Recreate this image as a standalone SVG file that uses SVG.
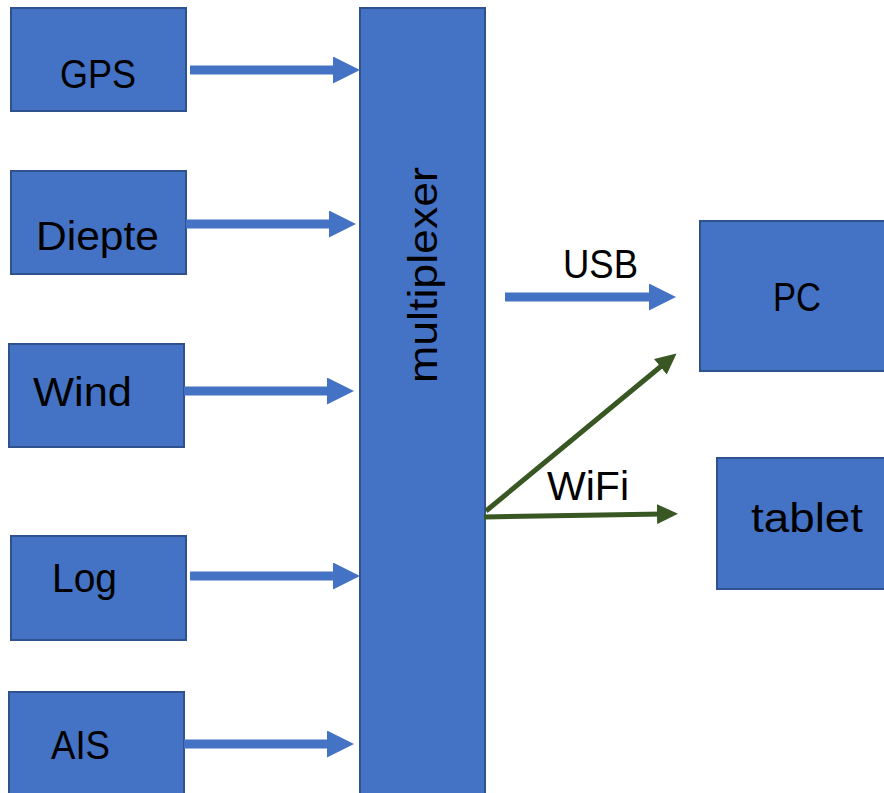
<svg xmlns="http://www.w3.org/2000/svg" width="884" height="793" viewBox="0 0 884 793">
<style>
.box{fill:#4472C4;stroke:#2F528F;stroke-width:2}
.lbl{font-family:"Liberation Sans",Arial,sans-serif;font-size:41px;fill:#000}
.blue{stroke:#4472C4;stroke-width:9;fill:none}
.green{stroke:#385723;stroke-width:5;fill:none}
</style>
<defs>
<marker id="ah" markerUnits="userSpaceOnUse" markerWidth="27" markerHeight="27" viewBox="0 0 27 27" refX="7" refY="13.5" orient="auto">
<path d="M0,0 L27,13.5 L0,27 Z" fill="#4472C4"/>
</marker>
<marker id="ag" markerUnits="userSpaceOnUse" markerWidth="21" markerHeight="20" viewBox="0 0 21 20" refX="6" refY="10" orient="auto">
<path d="M0,0 L21,10 L0,20 Z" fill="#385723"/>
</marker>
</defs>
<g id="gps"><rect class="box" x="11" y="8" width="175" height="103"/><text class="lbl" x="60" y="88" textLength="76" lengthAdjust="spacingAndGlyphs">GPS</text></g>
<g id="diepte"><rect class="box" x="11" y="171" width="175" height="103"/><text class="lbl" x="36" y="250" textLength="123" lengthAdjust="spacingAndGlyphs">Diepte</text></g>
<g id="wind"><rect class="box" x="9" y="344" width="175" height="103"/><text class="lbl" x="33" y="406" textLength="99" lengthAdjust="spacingAndGlyphs">Wind</text></g>
<g id="log"><rect class="box" x="11" y="536" width="175" height="104"/><text class="lbl" x="52" y="592" textLength="65" lengthAdjust="spacingAndGlyphs">Log</text></g>
<g id="ais"><rect class="box" x="9" y="692" width="175" height="110"/><text class="lbl" x="51" y="759" textLength="59" lengthAdjust="spacingAndGlyphs">AIS</text></g>
<g id="multiplexer"><rect class="box" x="360" y="8" width="125" height="800"/><text class="lbl" transform="translate(437,383) rotate(-90)" x="0" y="0" textLength="216" lengthAdjust="spacingAndGlyphs">multiplexer</text></g>
<g id="pc"><rect class="box" x="700" y="221" width="190" height="150"/><text class="lbl" x="773" y="311" textLength="48" lengthAdjust="spacingAndGlyphs">PC</text></g>
<g id="tablet"><rect class="box" x="717" y="458" width="173" height="131"/><text class="lbl" x="751" y="532" textLength="112" lengthAdjust="spacingAndGlyphs">tablet</text></g>
<g id="connectors">
<line class="blue" x1="190" y1="70" x2="340" y2="70" marker-end="url(#ah)"/>
<line class="blue" x1="186" y1="224" x2="336" y2="224" marker-end="url(#ah)"/>
<line class="blue" x1="184" y1="391" x2="334" y2="391" marker-end="url(#ah)"/>
<line class="blue" x1="190" y1="576" x2="340" y2="576" marker-end="url(#ah)"/>
<line class="blue" x1="184" y1="744" x2="334" y2="744" marker-end="url(#ah)"/>
<line class="blue" x1="505" y1="297" x2="656" y2="297" marker-end="url(#ah)"/>
<text class="lbl" x="563" y="278" textLength="75" lengthAdjust="spacingAndGlyphs">USB</text>
<line class="green" x1="486" y1="511" x2="665" y2="363" marker-end="url(#ag)"/>
<line class="green" x1="484" y1="517" x2="663" y2="514" marker-end="url(#ag)"/>
<text class="lbl" x="547" y="500" textLength="82" lengthAdjust="spacingAndGlyphs">WiFi</text>
</g>
</svg>
